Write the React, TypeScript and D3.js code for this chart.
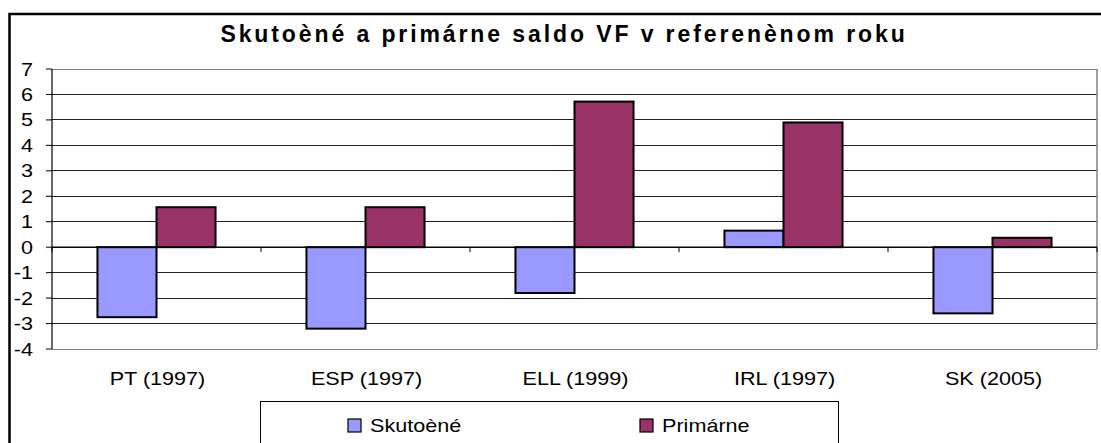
import * as d3 from 'd3';

const categories = ['PT (1997)', 'ESP (1997)', 'ELL (1999)', 'IRL (1997)', 'SK (2005)'];
const seriesNames = ['Skuto\u00e8n\u00e9', 'Prim\u00e1rne'];
const skutocne = [-2.75, -3.2, -1.8, 0.65, -2.6];
const primarne = [1.57, 1.57, 5.72, 4.9, 0.37];
const yTicks = [-4, -3, -2, -1, 0, 1, 2, 3, 4, 5, 6, 7];
const colors = ['#9999FF', '#993366'];
const title = 'Skuto\u00e8n\u00e9 a prim\u00e1rne saldo VF v referen\u00e8nom roku';

const W = 1101;
const H = 443;
const plot = { left: 52, right: 1097, top: 69, bottom: 349 };
const font = '"Liberation Sans", Arial, sans-serif';
const stretch = (px: number, py: number) => `translate(${px},${py}) scale(1.2,1)`;

export default function App() {
  const x = d3.scaleBand<string>().domain(categories).range([plot.left, plot.right])
    .paddingInner(0.435).paddingOuter(0.2175);
  const step = x.step();
  const xs = d3.scaleBand<string>().domain(seriesNames).range([0, x.bandwidth()]).padding(0);
  const y = d3.scaleLinear().domain([-4, 7]).range([plot.bottom, plot.top]);
  const series = [skutocne, primarne];

  return (
    <svg width={W} height={H} style={{ position: 'absolute', left: 0, top: 0, background: '#fff' }}>
      <rect x={9.5} y={14} width={W + 20} height={H + 20} fill="#fff" stroke="#000" strokeWidth={2.5} />
      <text x={564} y={42} textAnchor="middle" fontFamily={font} fontWeight="bold" fontSize={23}
        letterSpacing={2.9} fill="#000">{title}</text>

      {/* grid */}
      {yTicks.map((t) => (
        <line key={'g' + t} x1={plot.left} x2={plot.right} y1={y(t)} y2={y(t)}
          stroke={t === 7 || t === -4 ? '#808080' : '#222'} strokeWidth={1} shapeRendering="crispEdges" />
      ))}
      <line x1={plot.right} x2={plot.right} y1={plot.top} y2={plot.bottom} stroke="#808080" strokeWidth={1.5} />

      {/* bars */}
      {categories.map((c, i) => (
        <g key={c}>
          {series.map((s, j) => {
            const v = s[i];
            const bx = (x(c) as number) + (xs(seriesNames[j]) as number);
            return (
              <rect key={j} x={bx} width={xs.bandwidth()} y={Math.min(y(v), y(0))}
                height={Math.abs(y(v) - y(0))} fill={colors[j]} stroke="#000" strokeWidth={2} />
            );
          })}
        </g>
      ))}

      {/* axes */}
      <line x1={plot.left} x2={plot.left} y1={plot.top} y2={plot.bottom} stroke="#000" strokeWidth={1.2} />
      {yTicks.map((t) => (
        <g key={'t' + t}>
          <line x1={plot.left - 6} x2={plot.left} y1={y(t)} y2={y(t)} stroke="#000" strokeWidth={1} />
          <text transform={stretch(33, y(t) + 6.5)} textAnchor="end" fontFamily={font} fontSize={18}
            fill="#000">{t}</text>
        </g>
      ))}
      <line x1={plot.left} x2={plot.right} y1={y(0)} y2={y(0)} stroke="#000" strokeWidth={1.2} />
      {d3.range(categories.length + 1).map((i) => (
        <line key={'ct' + i} x1={plot.left + i * step} x2={plot.left + i * step} y1={y(0)} y2={y(0) + 5}
          stroke="#000" strokeWidth={1} />
      ))}
      {categories.map((c) => (
        <text key={'l' + c} transform={stretch((x(c) as number) + x.bandwidth() / 2 + 1, 385)}
          textAnchor="middle" fontFamily={font} fontSize={18} fill="#000">{c}</text>
      ))}

      {/* legend */}
      <rect x={260.5} y={401.5} width={578} height={60} fill="#fff" stroke="#000" strokeWidth={1} />
      {seriesNames.map((n, j) => {
        const lx = j === 0 ? 348 : 640;
        return (
          <g key={'lg' + n}>
            <rect x={lx} y={419} width={13} height={13} fill={colors[j]} stroke="#000" strokeWidth={1.2} />
            <text transform={stretch(lx + 22, 432)} fontFamily={font} fontSize={18} fill="#000">{n}</text>
          </g>
        );
      })}
    </svg>
  );
}
